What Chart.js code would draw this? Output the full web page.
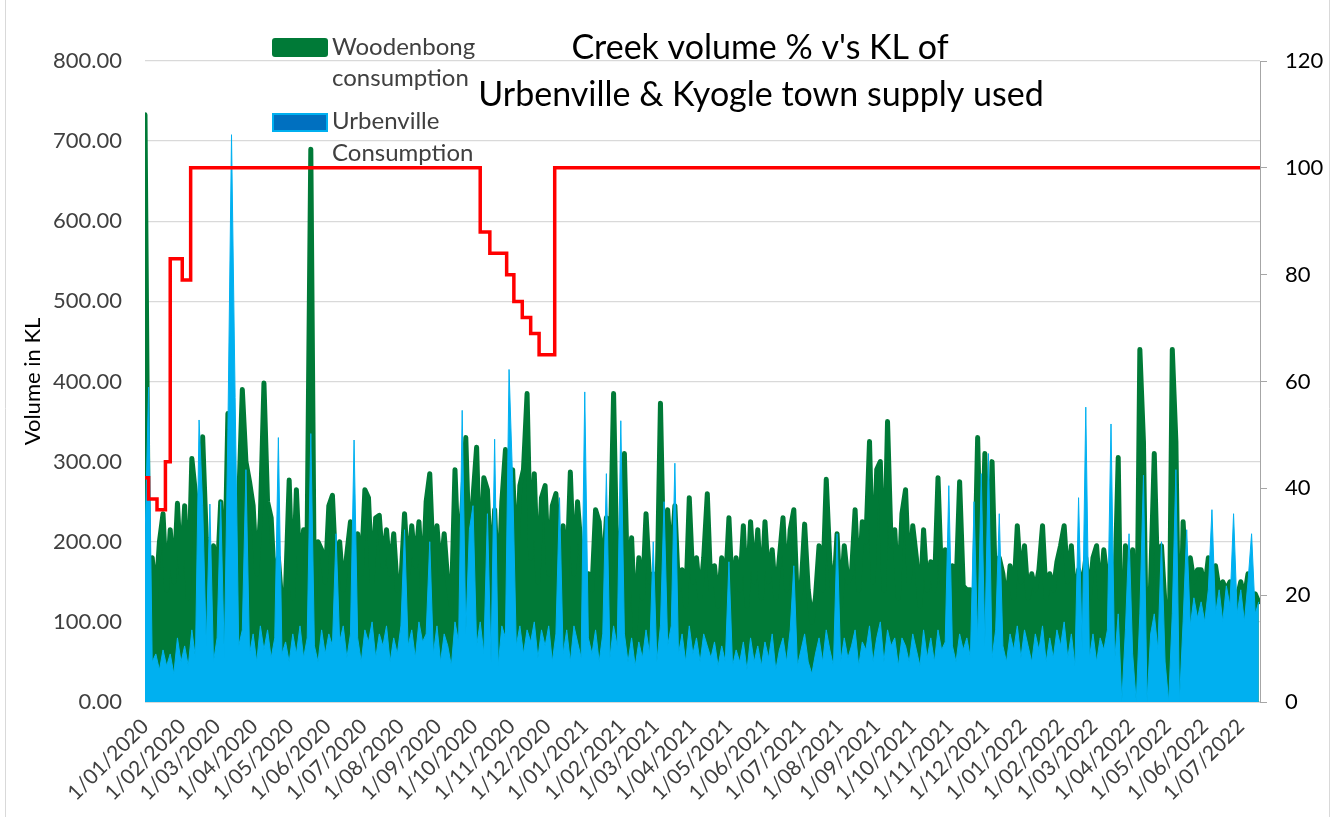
<!DOCTYPE html>
<html>
<head>
<meta charset="utf-8">
<script src="https://cdn.jsdelivr.net/npm/chart.js@4.4.1/dist/chart.umd.min.js"></script>
<style>
  html, body { margin: 0; padding: 0; background: #fff; }
</style>
</head>
<body>
<canvas id="creekChart" width="1341" height="817"></canvas>
<script>
// daily readings sampled every 3 days from 1/01/2020
const startDate = new Date(2020, 0, 1);
const stepDays = 3;

const woodenbong = [
  733, 150, 180, 130, 200, 235, 140, 215, 150, 248,
  160, 245, 130, 304, 260, 170, 331, 205, 140, 195,
  150, 250, 130, 360, 170, 120, 250, 390, 300, 275,
  245, 160, 230, 398, 250, 230, 140, 180, 120, 140,
  277, 130, 265, 160, 215, 215, 690, 120, 200, 190,
  150, 245,
  258, 160, 200, 140, 185, 225, 150, 210, 160, 265,
  255, 150, 230, 233, 170, 215, 160, 210, 140, 150,
  235, 160, 220, 170, 225, 140, 250, 285, 170, 220,
  160, 210, 150, 120, 290, 170, 245, 330, 180, 255,
  318, 160, 280, 265, 150, 240, 130, 250, 315, 180,
  290, 170, 270,
  290, 385, 180, 285, 150, 255, 270, 160, 245, 260,
  170, 220, 150, 287, 160, 250, 190, 130, 160, 140,
  240, 225, 150, 230, 170, 385, 150, 200, 310, 120,
  205, 90, 180, 130, 235, 150, 160, 120, 373, 150,
  240, 170, 245, 140, 165, 120, 255, 150, 180, 130,
  180, 260,
  140, 170, 120, 180, 140, 230, 130, 180, 140, 220,
  120, 225, 150, 215, 130, 225, 150, 190, 130, 180,
  230, 140, 215, 240, 120, 140, 222, 140, 100, 130,
  195, 140, 278, 175, 130, 210, 120, 195, 150, 160,
  240, 140, 225, 200, 325, 150, 290, 300, 140, 350,
  195, 215, 130,
  235, 265, 150, 220, 180, 120, 215, 140, 175, 140,
  280, 150, 190, 130, 170, 140, 275, 145, 140, 140,
  120, 330, 140, 310, 150, 300, 130, 180, 160, 120,
  170, 130, 220, 150, 195, 130, 160, 140, 165, 220,
  130, 160, 140, 175, 195, 220, 150, 195, 120, 165,
  140, 180, 130,
  180, 195, 130, 190, 150, 145, 130, 305, 0, 195,
  150, 190, 0, 440, 325, 0, 150, 310, 140, 195,
  120, 0, 440, 325, 0, 225, 140, 180, 150, 165,
  165, 140, 180, 150, 170, 140, 150, 140, 150, 140,
  130, 150, 130, 160, 120, 135, 125
];

const urbenville = [
  200, 393, 50, 60, 40, 65, 45, 60, 35, 80,
  50, 70, 45, 90, 55, 352, 245, 70, 247, 50,
  80, 250, 55, 340, 708, 380, 70, 90, 290, 60,
  85, 50, 95, 65, 90, 55, 80, 330, 60, 75,
  50, 85, 60, 95, 55, 80, 335, 70, 50, 90,
  60, 85, 70, 210, 75, 95, 55, 85, 327, 80,
  50, 90, 75, 100, 55, 85, 70, 95, 50, 80,
  60, 95, 215, 70, 90, 55, 100, 75, 85, 200,
  60, 95, 50, 85, 70, 45, 100, 75, 364, 85,
  215, 245, 70, 100, 60, 235, 50, 328, 45, 95,
  80, 415, 275, 70, 95, 60, 90, 75, 100, 55,
  90, 70, 95, 50, 85, 255, 60, 90, 50, 95,
  75, 55, 387, 80, 60, 90, 50, 85, 285, 55,
  95, 70, 351, 85, 50, 80, 45, 75, 55, 90,
  60, 200, 50, 95, 250, 70, 95, 298, 60, 85,
  50, 95, 60, 80, 50, 85, 70, 55, 75, 45,
  70, 50, 175, 45, 65, 50, 75, 40, 80, 50,
  70, 45, 75, 55, 85, 40, 65, 80, 50, 90,
  170, 45, 65, 85, 50, 35, 60, 80, 50, 90,
  65, 45, 210, 50, 80, 55, 70, 90, 45, 75,
  65, 95, 50, 80, 100, 50, 90, 70, 80, 45,
  80, 70, 50, 85, 65, 45, 90, 55, 80, 50,
  90, 65, 75, 270, 70, 50, 85, 65, 80, 55,
  250, 75, 285, 70, 310, 55, 90, 235, 70, 50,
  85, 65, 95, 55, 90, 70, 50, 85, 65, 95,
  50, 80, 55, 90, 70, 100, 55, 85, 45, 255,
  65, 368, 55, 85, 50, 80, 65, 90, 347, 50,
  110, 0, 90, 210, 60, 0, 110, 283, 0, 85,
  110, 65, 200, 50, 0, 110, 290, 0, 100, 215,
  95, 130, 105, 125, 100, 140, 240, 110, 140, 100,
  145, 120, 235, 110, 140, 100, 150, 210, 110, 125
];

// creek volume %: day the level changed and the new level
const creekDays = [0, 3, 10, 17, 21, 31, 38, 279, 287, 301, 307, 314, 321, 328, 341, 928];
const creekPct  = [42, 38, 36, 45, 83, 79, 100, 88, 84, 80, 75, 72, 69, 65, 100, 100];

const monthLabels = [
  '1/01/2020', '1/02/2020', '1/03/2020', '1/04/2020', '1/05/2020', '1/06/2020',
  '1/07/2020', '1/08/2020', '1/09/2020', '1/10/2020', '1/11/2020', '1/12/2020',
  '1/01/2021', '1/02/2021', '1/03/2021', '1/04/2021', '1/05/2021', '1/06/2021',
  '1/07/2021', '1/08/2021', '1/09/2021', '1/10/2021', '1/11/2021', '1/12/2021',
  '1/01/2022', '1/02/2022', '1/03/2022', '1/04/2022', '1/05/2022', '1/06/2022',
  '1/07/2022'
];

const titleLines = ["Creek volume % v's KL of", 'Urbenville & Kyogle town supply used'];

function dayOf(label) {
  const p = label.split('/');
  return Math.round((new Date(+p[2], +p[1] - 1, +p[0]) - startDate) / 86400000);
}
const monthDays = monthLabels.map(dayOf);

const fontFam = 'Lato, "Open Sans", sans-serif';

// title, legend and outer border, drawn over the plot like the excel sheet
const overlay = {
  id: 'overlay',
  afterDraw(chart) {
    const ctx = chart.ctx;
    ctx.save();
    ctx.strokeStyle = '#d9d9d9';
    ctx.lineWidth = 1;
    ctx.beginPath();
    ctx.moveTo(5.5, 0); ctx.lineTo(5.5, 817);
    ctx.moveTo(1329.5, 0); ctx.lineTo(1329.5, 817);
    ctx.stroke();

    ctx.fillStyle = '#000';
    ctx.font = '34px ' + fontFam;
    ctx.textAlign = 'center';
    ctx.textBaseline = 'middle';
    ctx.fillText(titleLines[0], 760, 48);
    ctx.fillText(titleLines[1], 761, 95);

    // legend
    ctx.fillStyle = '#007A37';
    ctx.beginPath();
    ctx.roundRect(272, 38, 56, 19, 3);
    ctx.fill();
    ctx.fillStyle = '#0070C0';
    ctx.strokeStyle = '#00B0F0';
    ctx.lineWidth = 2;
    ctx.beginPath();
    ctx.rect(273, 114, 54, 17);
    ctx.fill();
    ctx.stroke();

    ctx.fillStyle = '#404040';
    ctx.font = '24px ' + fontFam;
    ctx.textAlign = 'left';
    ctx.fillText('Woodenbong', 332, 47);
    ctx.fillText('consumption', 332, 78);
    ctx.fillText('Urbenville', 332, 121);
    ctx.fillText('Consumption', 332, 153);
    ctx.restore();
  }
};

new Chart(document.getElementById('creekChart'), {
  type: 'line',
  data: {
    datasets: [
      {
        label: 'Creek volume %',
        data: creekDays.map((d, i) => ({ x: d, y: creekPct[i] })),
        yAxisID: 'y1',
        borderColor: '#FF0000',
        borderWidth: 3.5,
        stepped: true,
        pointRadius: 0,
        order: 0
      },
      {
        label: 'Urbenville Consumption',
        data: urbenville.map((v, i) => ({ x: i * stepDays, y: v })),
        yAxisID: 'y',
        borderColor: '#00B0F0',
        backgroundColor: '#00B0F0',
        borderWidth: 1,
        fill: 'origin',
        pointRadius: 0,
        tension: 0,
        order: 1
      },
      {
        label: 'Woodenbong consumption',
        data: woodenbong.map((v, i) => ({ x: i * stepDays, y: v })),
        yAxisID: 'y',
        borderColor: '#007A37',
        backgroundColor: '#007A37',
        fill: 'origin',
        borderWidth: 5,
        borderCapStyle: 'round',
        borderJoinStyle: 'round',
        pointRadius: 0,
        tension: 0,
        order: 2
      }
    ]
  },
  options: {
    responsive: false,
    animation: false,
    layout: { padding: { top: 61, left: 0, right: 0, bottom: 0 } },
    plugins: {
      legend: { display: false },
      tooltip: { enabled: false }
    },
    scales: {
      x: {
        type: 'linear',
        min: 0,
        max: 928,
        afterBuildTicks: (s) => { s.ticks = monthDays.map(v => ({ value: v })); },
        afterFit: (s) => { s.height = 115; },
        grid: { display: false },
        border: { display: true, color: '#d9d9d9' },
        ticks: {
          autoSkip: false,
          minRotation: 45,
          maxRotation: 45,
          padding: 4,
          color: '#404040',
          font: { family: fontFam, size: 21 },
          callback: (v, i) => monthLabels[i]
        }
      },
      y: {
        position: 'left',
        min: 0,
        max: 800,
        afterFit: (s) => { s.width = 145; },
        ticks: {
          stepSize: 100,
          padding: 23,
          color: '#404040',
          font: { family: fontFam, size: 22 },
          callback: (v) => v.toFixed(2)
        },
        grid: { color: '#d9d9d9', lineWidth: 1.3, drawTicks: false },
        border: { display: false },
        title: {
          display: true,
          text: 'Volume in KL',
          color: '#000',
          font: { family: fontFam, size: 22 },
          padding: { top: 20, bottom: 0 }
        }
      },
      y1: {
        position: 'right',
        min: 0,
        max: 120,
        afterFit: (s) => { s.width = 81; },
        ticks: {
          stepSize: 20,
          padding: 18,
          color: '#000',
          font: { family: fontFam, size: 22 }
        },
        grid: { drawOnChartArea: false, tickLength: 7, color: '#a6a6a6' },
        border: { display: true, color: '#a6a6a6' }
      }
    }
  },
  plugins: [overlay]
});
</script>
</body>
</html>
